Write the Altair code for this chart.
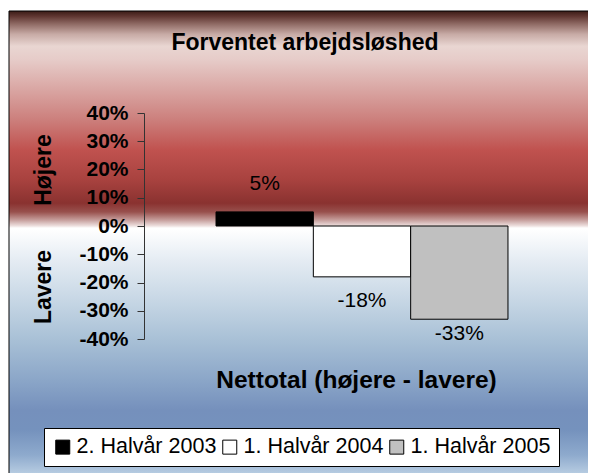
import altair as alt
import pandas as pd

# ---- data ----
series = ["2. Halvår 2003", "1. Halvår 2004", "1. Halvår 2005"]
values = [0.05, -0.18, -0.33]
bar_colors = ["#000000", "#ffffff", "#c0c0c0"]
y_ticks = [0.4, 0.3, 0.2, 0.1, 0.0, -0.1, -0.2, -0.3, -0.4]
title_text = "Forventet arbejdsløshed"
x_title = "Nettotal (højere - lavere)"
upper_label = "Højere"
lower_label = "Lavere"

df = pd.DataFrame({"series": series, "value": values})

FONT = "Liberation Sans"

# background gradient (red above zero, blue below)
stops_spec = [
    (0.000, "#3b1c17"), (0.011, "#5e3530"), (0.028, "#8f6a64"), (0.050, "#c7aaa5"),
    (0.076, "#e9d6d2"), (0.106, "#e6cbc8"), (0.171, "#d9a5a2"), (0.235, "#cc7f7c"),
    (0.300, "#c0524f"), (0.365, "#a8423f"), (0.415, "#8a3230"), (0.434, "#98504d"),
    (0.451, "#c59c9a"), (0.464, "#eddfde"), (0.4687, "#ffffff"), (0.471, "#ffffff"),
    (0.538, "#e5ecf3"), (0.624, "#c7d7e5"), (0.711, "#a8c0d6"), (0.797, "#8ba6c8"),
    (0.862, "#7590bc"), (0.905, "#7592bd"), (0.959, "#8eaacd"), (1.000, "#b8cde2"),
]
grad = alt.LinearGradient(
    gradient="linear",
    stops=[alt.GradientStop(offset=o, color=c) for o, c in stops_spec],
    x1=0, x2=0, y1=0, y2=1,
)

one = pd.DataFrame({"a": [0]})

bg = alt.Chart(one).mark_rect(
    fill=grad, stroke="black", strokeWidth=1
).encode(
    x=alt.value(-135), x2=alt.value(470), y=alt.value(-102), y2=alt.value(361)
)

yscale = alt.Scale(domain=[-0.4, 0.4], nice=False, zero=False)
xscale = alt.Scale(domain=series, paddingInner=0, paddingOuter=0.74)

x_axis = alt.Axis(title=x_title, labels=False, ticks=False, domain=False,
                  titleFont=FONT, titleFontSize=24.5, titleFontWeight="bold",
                  titleColor="black", titlePadding=29, titleX=212, zindex=1)
y_axis = alt.Axis(values=y_ticks, format=".0%", title=None, grid=False,
                  labelExpr="replace(datum.label, '\u2212', '-')",
                  labelFont=FONT, labelFontSize=21, labelFontWeight="bold",
                  labelColor="black", tickSize=7, labelPadding=9,
                  domainColor="#333333", tickColor="#333333",
                  labelOverlap=False, zindex=1)

bars = alt.Chart(df).mark_bar(stroke="black", strokeWidth=1).encode(
    x=alt.X("series:N", scale=xscale, sort=series, axis=x_axis),
    y=alt.Y("value:Q", scale=yscale, axis=y_axis),
    color=alt.Color("series:N", scale=alt.Scale(domain=series, range=bar_colors),
                    legend=alt.Legend(
                        title=None, orient="none", legendX=-100, legendY=315,
                        direction="horizontal", fillColor="white", strokeColor="black",
                        padding=8, labelFont=FONT, labelFontSize=21.5, labelColor="black",
                        symbolType="square", symbolSize=196, symbolStrokeColor="black",
                        symbolStrokeWidth=1, columnPadding=2, labelOffset=3,
                        symbolOpacity=1, zindex=1)),
)

labels = alt.Chart(df).transform_calculate(
    lab="datum.value > 0 ? datum.value + 0.1 : max(datum.value - 0.086, -0.382)",
    txt="(datum.value < 0 ? '-' : '') + format(abs(datum.value), '.0%')",
).mark_text(font=FONT, fontSize=21, color="black", baseline="middle").encode(
    x=alt.X("series:N", scale=xscale, sort=series, axis=x_axis),
    y=alt.Y("lab:Q", scale=yscale, axis=y_axis),
    text="txt:N",
)

upper = alt.Chart(one).mark_text(
    text=upper_label, font=FONT, fontSize=23, fontWeight="bold", angle=270,
    color="black", baseline="middle", align="center"
).encode(x=alt.value(-100), y=alt.value(57))
lower = alt.Chart(one).mark_text(
    text=lower_label, font=FONT, fontSize=23, fontWeight="bold", angle=270,
    color="black", baseline="middle", align="center"
).encode(x=alt.value(-100), y=alt.value(174))

title = alt.Chart(one).mark_text(
    text=title_text, font=FONT, fontSize=23, fontWeight="bold",
    color="black", baseline="middle", align="center"
).encode(x=alt.value(161), y=alt.value(-70))

chart = alt.layer(bg, bars, labels, upper, lower, title).properties(
    width=436, height=226,
    padding={"left": 136, "top": 105, "right": 8, "bottom": 134},
    autosize=alt.AutoSizeParams(type="none"),
).configure_view(stroke=None).configure(background="white")

chart.save("out.html", embed_options={"renderer": "svg", "actions": False})
